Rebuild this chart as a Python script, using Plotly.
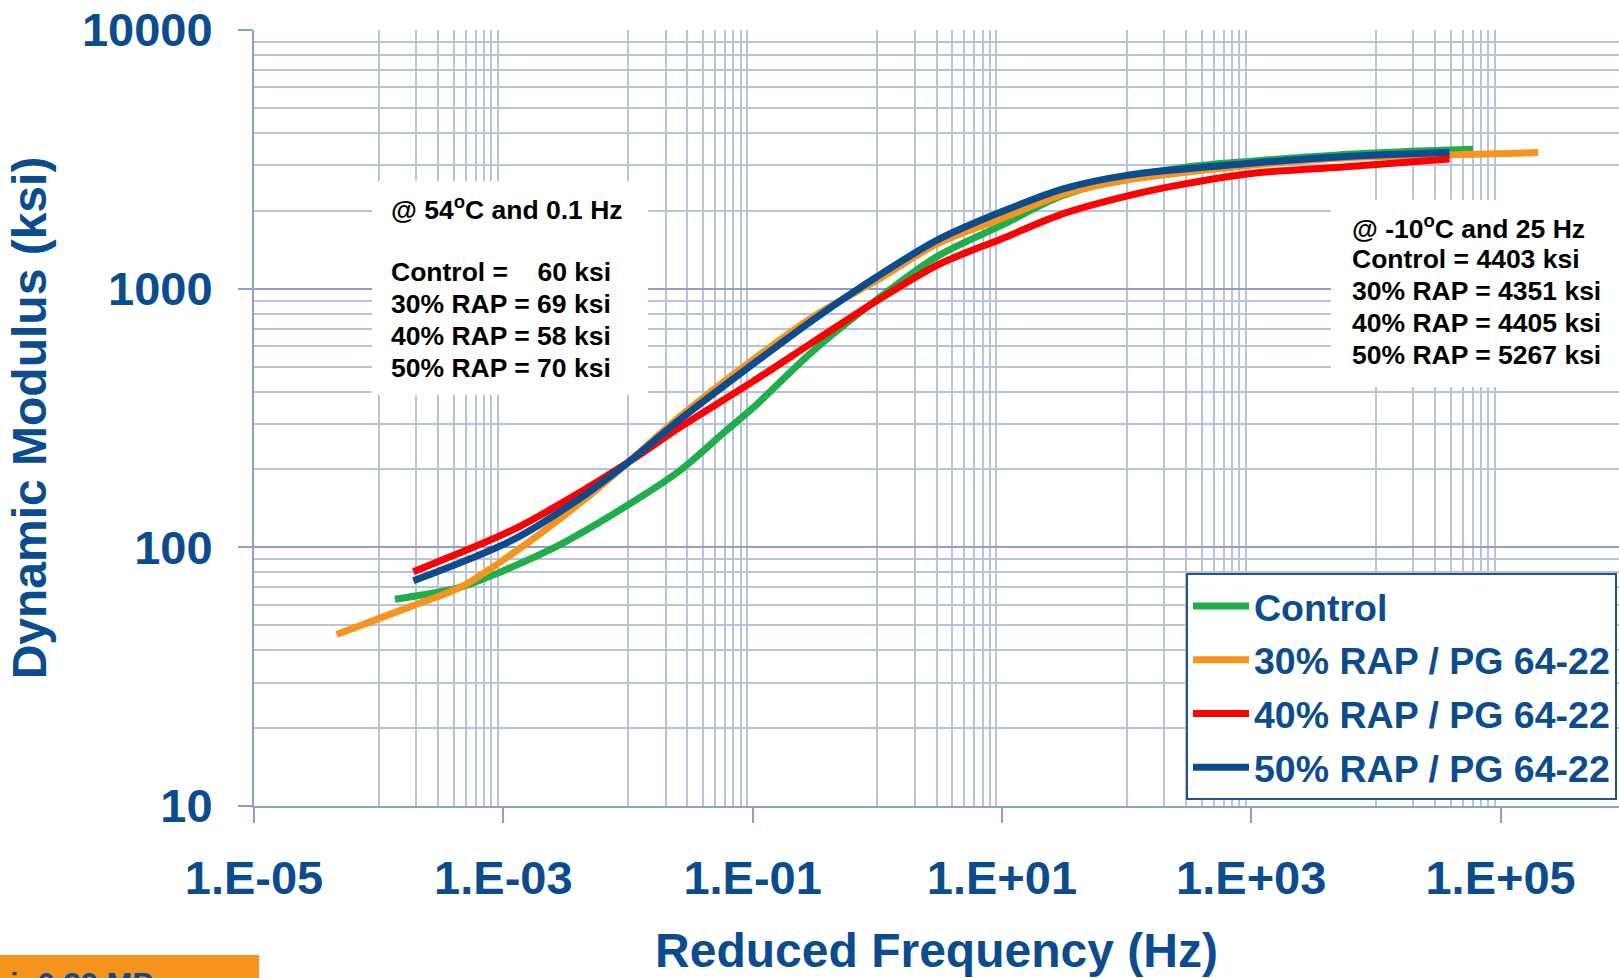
import plotly.graph_objects as go

# ---------------- data ----------------
ctrl_f = [1.35e-4, 4.5e-4, 9.3e-4, 2.7e-3, 1.1e-2, 2.5e-2, 6e-2, 0.1, 0.3, 1, 3, 10, 30, 100, 300, 1000, 5000, 2.5e4, 6e4]
ctrl_e = [63, 70, 80, 101, 150, 195, 280, 345, 570, 910, 1330, 1760, 2280, 2690, 2950, 3110, 3290, 3410, 3460]

rap30_f = [4.6e-5, 1.8e-4, 4.5e-4, 1.2e-3, 4.4e-3, 1e-2, 2.7e-2, 0.1, 0.32, 1, 3.1, 10, 31, 100, 1000, 5400, 3.5e4, 2e5]
rap30_e = [46, 59, 70, 95, 152, 213, 325, 530, 790, 1080, 1500, 1870, 2320, 2630, 3000, 3200, 3290, 3357]

rap40_f = [1.9e-4, 1.2e-3, 3.2e-3, 1e-2, 2.7e-2, 0.1, 0.32, 1, 3.1, 10, 31, 100, 300, 1000, 5400, 3.9e4]
rap40_e = [80.5, 117, 152, 213, 294, 437, 631, 900, 1240, 1560, 1950, 2281, 2548, 2790, 2953, 3170]

rap50_f = [1.9e-4, 1.2e-3, 3.9e-3, 1e-2, 2.7e-2, 0.1, 0.32, 1, 3.1, 10, 31, 100, 1000, 5400, 3.9e4]
rap50_e = [74.3, 107, 152, 213, 316, 510, 770, 1115, 1550, 1986, 2432, 2742, 3055, 3234, 3357]

series_names = ["Control", "30% RAP / PG 64-22", "40% RAP / PG 64-22", "50% RAP / PG 64-22"]
series_colors = ["#1FAE4B", "#F7941D", "#FF0000", "#0B4C8F"]

x_tickvals = [1e-5, 1e-3, 1e-1, 1e1, 1e3, 1e5]
x_ticktext = ["1.E-05", "1.E-03", "1.E-01", "1.E+01", "1.E+03", "1.E+05"]
x_minor = [k * 10.0 ** e for e in (-4, -2, 0, 2, 4) for k in range(1, 10)]

y_tickvals = [10, 100, 1000, 10000]
y_ticktext = ["10", "100", "1000", "10000"]
y_minor = [k * 10.0 ** e for e in (1, 2, 3) for k in range(2, 10)]

note_left_lines = ["@ 54<sup>o</sup>C and 0.1 Hz",
                   "Control =\u00a0\u00a0\u00a0\u00a060 ksi",
                   "30% RAP = 69 ksi", "40% RAP = 58 ksi", "50% RAP = 70 ksi"]
note_right_lines = ["@ -10<sup>o</sup>C and 25 Hz", "Control = 4403 ksi",
                    "30% RAP = 4351 ksi", "40% RAP = 4405 ksi", "50% RAP = 5267 ksi"]

# ---------------- figure ----------------
BLUE = "#0B4C8F"
AXIS = "#8C9FCB"
GRID = "#B8C2DA"
FONT = "Liberation Sans, Arial, sans-serif"

fig = go.Figure()
for xs, ys, name, col in zip([ctrl_f, rap30_f, rap40_f, rap50_f],
                             [ctrl_e, rap30_e, rap40_e, rap50_e],
                             series_names, series_colors):
    fig.add_trace(go.Scatter(x=xs, y=ys, name=name, mode="lines", legendgroup=name,
                             line=dict(color=col, width=7, shape="spline", smoothing=0.9)))

W, H = 1619, 978
L, R, T, B = 254, 0, 30, 172

fig.update_layout(
    width=W, height=H,
    margin=dict(l=L, r=R, t=T, b=B, pad=0),
    paper_bgcolor="white", plot_bgcolor="white",
    font=dict(family=FONT, color=BLUE, weight="bold"),
    showlegend=True,
    legend=dict(x=(1186 - L) / (W - L), y=(806 - 573) / (H - T - B), xanchor="left", yanchor="top",
                bgcolor="white", bordercolor="#1F5397", borderwidth=2,
                font=dict(family=FONT, size=37.5, color=BLUE, weight="bold"),
                itemwidth=56, tracegroupgap=2),
)

fig.update_xaxes(
    type="log", range=[-5, 5.95],
    tickmode="array", tickvals=x_tickvals, ticktext=x_ticktext,
    ticks="outside", ticklen=15, tickwidth=2, tickcolor=AXIS,
    showline=True, linecolor=AXIS, linewidth=2,
    showgrid=False, zeroline=False,
    tickfont=dict(family=FONT, size=47, color=BLUE, weight="bold"),
    ticklabelstandoff=15,
    minor=dict(tickmode="array", tickvals=x_minor, showgrid=True, gridcolor=GRID, gridwidth=2, ticks=""),
    title=dict(text="Reduced Frequency (Hz)", font=dict(family=FONT, size=48, color=BLUE, weight="bold"),
               standoff=30),
    automargin=False,
)
fig.update_yaxes(
    type="log", range=[1, 4],
    tickmode="array", tickvals=y_tickvals, ticktext=y_ticktext,
    ticks="outside", ticklen=14, tickwidth=2, tickcolor=AXIS,
    showline=True, linecolor=AXIS, linewidth=2,
    showgrid=True, gridcolor=AXIS, gridwidth=2, zeroline=False,
    tickfont=dict(family=FONT, size=47, color=BLUE, weight="bold"),
    ticklabelstandoff=16,
    minor=dict(tickmode="array", tickvals=y_minor, showgrid=True, gridcolor=GRID, gridwidth=2, ticks=""),
    title=dict(text="Dynamic Modulus (ksi)", font=dict(family=FONT, size=48, color=BLUE, weight="bold"),
               standoff=20),
    automargin=False,
)

pw, ph = W - L - R, H - T - B
def dx(px):
    return (px - L) / pw
def dy(py):
    return (T + ph - py) / ph

# white note boxes (they cover only the grid, no data passes through them)
fig.add_shape(type="rect", xref="paper", yref="paper", layer="above",
              x0=dx(372), x1=dx(648), y0=dy(395), y1=dy(181),
              fillcolor="white", line=dict(width=0))
fig.add_shape(type="rect", xref="paper", yref="paper", layer="above",
              x0=dx(1331), x1=dx(1625), y0=dy(387), y1=dy(200),
              fillcolor="white", line=dict(width=0))

for txt, yc in zip(note_left_lines, [208, 272, 304, 336, 368]):
    fig.add_annotation(xref="paper", yref="paper", x=dx(389), y=dy(yc), xanchor="left", yanchor="middle",
                       text=txt, showarrow=False, align="left",
                       font=dict(family=FONT, size=26.5, color="black", weight="bold"))
for txt, yc in zip(note_right_lines, [227, 259, 291, 323, 355]):
    fig.add_annotation(xref="paper", yref="paper", x=dx(1350), y=dy(yc), xanchor="left", yanchor="middle",
                       text=txt, showarrow=False, align="left",
                       font=dict(family=FONT, size=26.5, color="black", weight="bold"))

# orange tag cut off at bottom-left
fig.add_shape(type="rect", xref="paper", yref="paper", layer="above",
              x0=dx(0), x1=dx(259), y0=dy(1000), y1=dy(955),
              fillcolor="#F7941D", line=dict(width=0))
fig.add_annotation(xref="paper", yref="paper", x=dx(8), y=dy(965), xanchor="left", yanchor="top",
                   text="i: 0.39 MPa", showarrow=False,
                   font=dict(family=FONT, size=31, color=BLUE, weight="bold"))

fig.write_html("out.html")
